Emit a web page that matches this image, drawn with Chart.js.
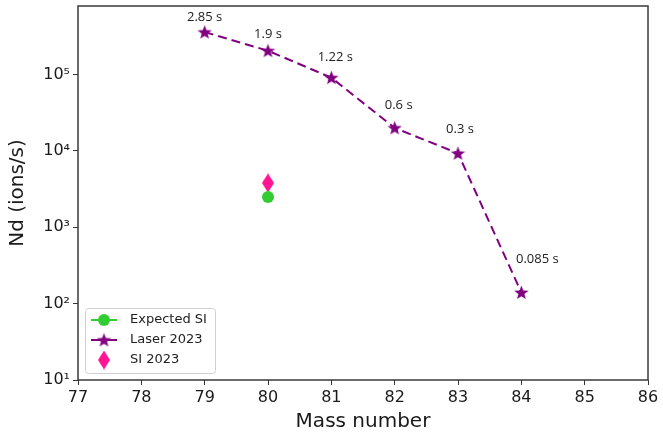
<!DOCTYPE html>
<html>
<head>
<meta charset="utf-8">
<script src="https://cdn.jsdelivr.net/npm/chart.js@4.4.0/dist/chart.umd.min.js"></script>
<style>
  html, body { margin: 0; padding: 0; background: #fff; }
</style>
</head>
<body>
<canvas id="myChart" width="663" height="432"></canvas>
<script>
// Nd yields per mass number
const massNumbers = [79, 80, 81, 82, 83, 84];
const laserRates = [3.6e5, 2.05e5, 9.1e4, 2.0e4, 9.3e3, 1.4e2];
const halfLives = ['2.85 s', '1.9 s', '1.22 s', '0.6 s', '0.3 s', '0.085 s'];
const expectedMass = [80];
const expectedRates = [2.5e3];
const siMass = [80];
const siRates = [3.8e3];
const xTicks = [77, 78, 79, 80, 81, 82, 83, 84, 85, 86];
const yTicks = [1e1, 1e2, 1e3, 1e4, 1e5];

// where each half-life text sits relative to its star (px)
const labelOffsets = [[0, -15], [0, -16], [4, -20], [4, -23], [2, -24], [16, -33]];

const PURPLE = '#800080';
const GREEN = '#32cd32';
const PINK = '#ff1493';
const SUP = { '0': '\u2070', '1': '\u00b9', '2': '\u00b2', '3': '\u00b3', '4': '\u2074', '5': '\u2075', '6': '\u2076' };

function starImage(size, color) {
    const c = document.createElement('canvas');
    c.width = c.height = size;
    const g = c.getContext('2d');
    const r = size / 2, ri = r * 0.42;
    g.beginPath();
    for (let i = 0; i < 10; i++) {
        const a = -Math.PI / 2 + i * Math.PI / 5;
        const rr = i % 2 ? ri : r;
        g.lineTo(r + rr * Math.cos(a), r + 0.5 + rr * Math.sin(a));
    }
    g.closePath();
    g.fillStyle = color;
    g.fill();
    return c;
}

function diamondImage(w, h, color) {
    const c = document.createElement('canvas');
    c.width = w; c.height = h;
    const g = c.getContext('2d');
    g.beginPath();
    g.moveTo(w / 2, 0); g.lineTo(w, h / 2); g.lineTo(w / 2, h); g.lineTo(0, h / 2);
    g.closePath();
    g.fillStyle = color;
    g.fill();
    return c;
}

const star = starImage(15, PURPLE);
const diamond = diamondImage(12, 19, PINK);

const toPoints = (xs, ys) => xs.map((x, i) => ({ x: x, y: ys[i] }));

// axes frame on all four sides
const framePlugin = {
    id: 'frame',
    afterDraw(chart) {
        const { ctx, chartArea: a } = chart;
        ctx.save();
        ctx.strokeStyle = '#3a3a3a';
        ctx.lineWidth = 1.5;
        ctx.strokeRect(a.left, a.top, a.right - a.left, a.bottom - a.top);
        ctx.restore();
    }
};

// half-life annotations above the laser points
const halfLifePlugin = {
    id: 'halfLives',
    afterDatasetsDraw(chart) {
        const { ctx, scales } = chart;
        ctx.save();
        ctx.font = '13px "Open Sans"';
        ctx.fillStyle = '#222';
        ctx.textAlign = 'center';
        ctx.textBaseline = 'middle';
        halfLives.forEach((t, i) => {
            const px = scales.x.getPixelForValue(massNumbers[i]);
            const py = scales.y.getPixelForValue(laserRates[i]);
            ctx.fillText(t, px + labelOffsets[i][0], py + labelOffsets[i][1]);
        });
        ctx.restore();
    }
};

// legend box in the lower left corner
const legendPlugin = {
    id: 'boxLegend',
    afterDraw(chart) {
        const { ctx } = chart;
        const x0 = 85, y0 = 308, w = 130, h = 65;
        ctx.save();
        ctx.beginPath();
        ctx.roundRect(x0 + 0.5, y0 + 0.5, w, h, 3);
        ctx.fillStyle = 'rgba(255,255,255,0.8)';
        ctx.fill();
        ctx.strokeStyle = '#d0d0d0';
        ctx.lineWidth = 1;
        ctx.stroke();

        const rows = [
            { text: 'Expected SI', color: GREEN, line: true, mark: 'circle' },
            { text: 'Laser 2023', color: PURPLE, line: true, mark: star },
            { text: 'SI 2023', color: PINK, line: false, mark: diamond }
        ];
        rows.forEach((r, i) => {
            const y = y0 + 12 + i * 20;
            const mx = 104;
            if (r.line) {
                ctx.beginPath();
                ctx.moveTo(91, y);
                ctx.lineTo(117, y);
                ctx.strokeStyle = r.color;
                ctx.lineWidth = 2;
                ctx.stroke();
            }
            if (r.mark === 'circle') {
                ctx.beginPath();
                ctx.arc(mx, y, 6, 0, Math.PI * 2);
                ctx.fillStyle = r.color;
                ctx.fill();
            } else {
                ctx.drawImage(r.mark, mx - r.mark.width / 2, y - r.mark.height / 2);
            }
            ctx.font = '13px "DejaVu Sans"';
            ctx.fillStyle = '#222';
            ctx.textAlign = 'left';
            ctx.textBaseline = 'middle';
            ctx.fillText(r.text, 130, y);
        });
        ctx.restore();
    }
};

const tickFont = { family: 'DejaVu Sans', size: 16 };
const titleFont = { family: 'DejaVu Sans', size: 20, lineHeight: 1 };

const config = {
    type: 'line',
    data: {
        datasets: [{
                label: 'Expected SI',
                data: toPoints(expectedMass, expectedRates),
                showLine: false,
                pointStyle: 'circle',
                pointRadius: 6,
                backgroundColor: GREEN,
                borderColor: GREEN,
                pointBorderWidth: 0
            },
            {
                label: 'Laser 2023',
                data: toPoints(massNumbers, laserRates),
                showLine: true,
                borderColor: PURPLE,
                borderWidth: 2,
                borderDash: [9, 5],
                pointStyle: star,
                backgroundColor: PURPLE
            },
            {
                label: 'SI 2023',
                data: toPoints(siMass, siRates),
                showLine: false,
                pointStyle: diamond,
                backgroundColor: PINK
            }]
    },
    options: {
        responsive: false,
        animation: false,
        devicePixelRatio: 1,
        layout: { padding: { top: 3, right: 15, left: 0, bottom: 0 } },
        plugins: {
            legend: { display: false },
            tooltip: { enabled: false }
        },
        scales: {
            x: {
                type: 'linear',
                min: 77,
                max: 86,
                afterBuildTicks: (s) => { s.ticks = xTicks.map(v => ({ value: v })); },
                afterFit: (s) => { s.height = 52; s.paddingLeft = 0; s.paddingRight = 0; },
                ticks: { font: tickFont, color: '#1a1a1a', padding: 3, maxRotation: 0 },
                grid: { drawOnChartArea: false, drawTicks: true, tickLength: 5, tickColor: '#333' },
                border: { display: false },
                title: { display: true, text: 'Mass number', font: titleFont, color: '#1a1a1a', padding: { top: 0, bottom: 0 } }
            },
            y: {
                type: 'logarithmic',
                min: 10,
                max: 7.9e5,
                afterBuildTicks: (s) => { s.ticks = yTicks.map(v => ({ value: v })); },
                afterFit: (s) => { s.width = 78; s.paddingTop = 0; s.paddingBottom = 0; },
                ticks: {
                    font: tickFont,
                    color: '#1a1a1a',
                    padding: 3,
                    callback: (v) => '10' + String(Math.round(Math.log10(v))).split('').map(d => SUP[d]).join('')
                },
                grid: { drawOnChartArea: false, drawTicks: true, tickLength: 5, tickColor: '#333' },
                border: { display: false },
                title: { display: true, text: 'Nd (ions/s)', font: titleFont, color: '#1a1a1a', padding: { top: 8, bottom: 0 } }
            }
        }
    },
    plugins: [framePlugin, halfLifePlugin, legendPlugin]
};

const myChart = new Chart(document.getElementById('myChart'), config);
</script>
</body>
</html>
